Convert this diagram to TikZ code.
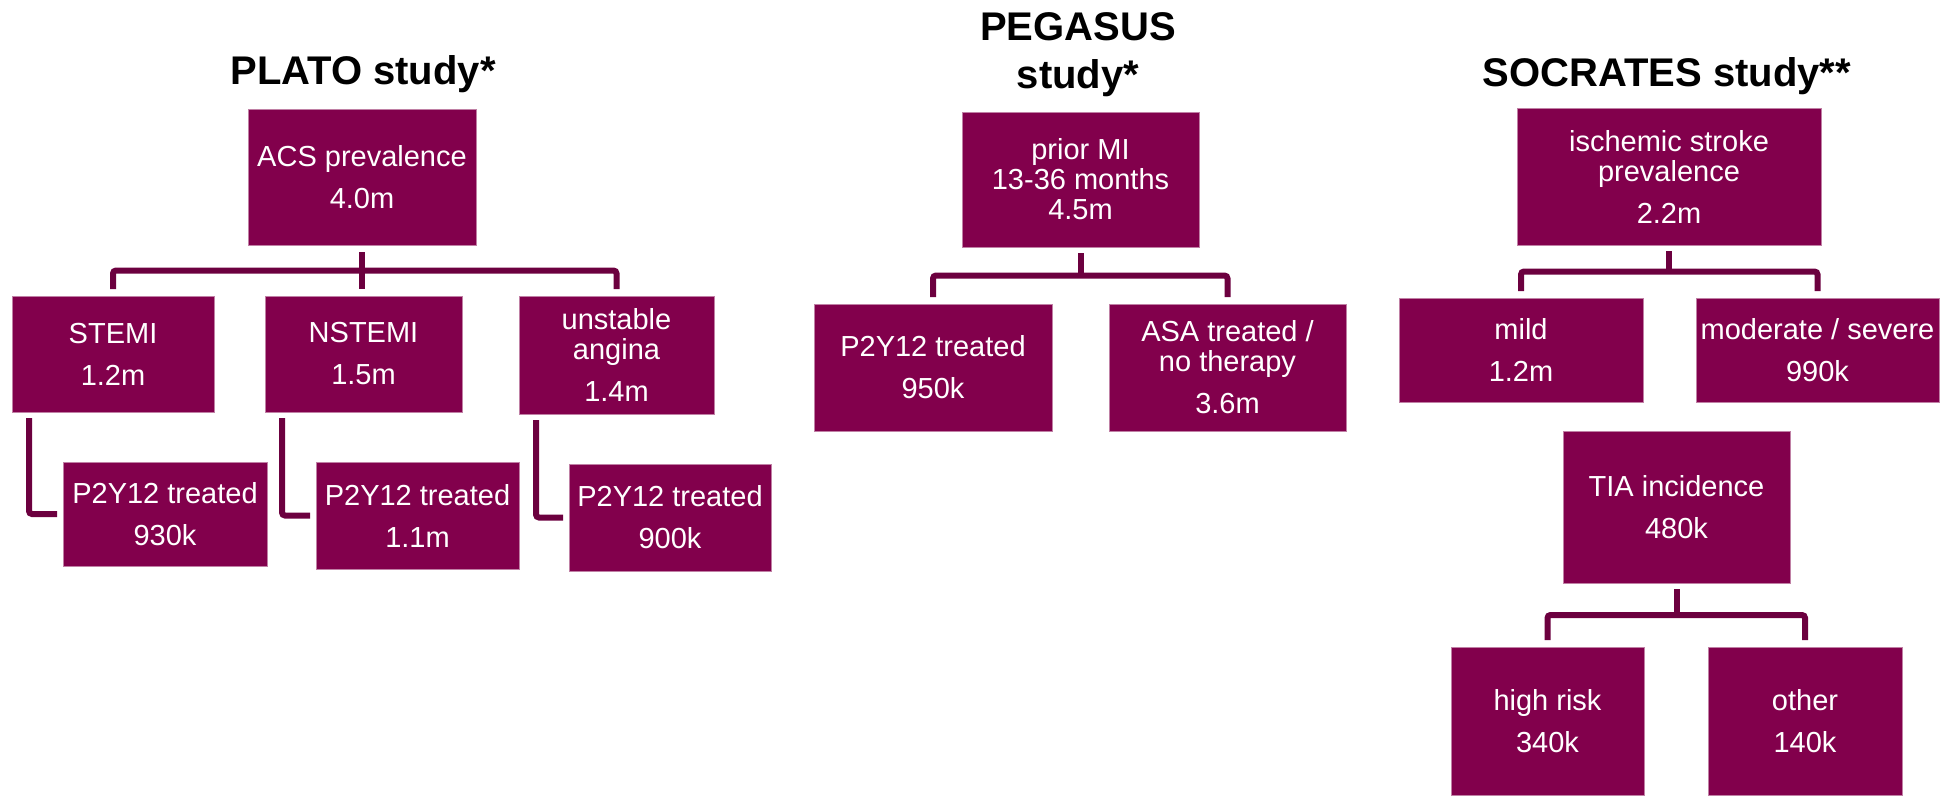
\documentclass[tikz,border=0pt]{standalone}
\usepackage{fontspec}
\setmainfont{Liberation Sans}
\usetikzlibrary{positioning,calc}
\definecolor{boxpurple}{RGB}{130,0,76}
\definecolor{linkpurple}{RGB}{108,0,63}

\begin{document}
\begin{tikzpicture}[
    x=1pt, y=-1pt,
    box/.style 2 args={rectangle, fill=boxpurple, draw=boxpurple!50!white, line width=0.8pt, text=white, minimum width=#1pt, minimum height=#2pt, inner sep=0pt, outer sep=0pt, align=center, font=\fontsize{29}{30}\selectfont},
    title/.style={anchor=north, inner sep=0pt, align=center, font=\fontsize{40}{48}\selectfont\bfseries},
    link/.style={draw=linkpurple, line width=6pt, rounded corners=3pt}
]
    \useasboundingbox (0,0) rectangle (1950,795);

    % PLATO study
    \node[title] (plato) at (363,55) {PLATO study*};
    \node[box={228}{136}] (acs) at (362,177) {ACS prevalence\\[12pt]4.0m};
    \node[box={202}{116}] (stemi) at (113,354) {STEMI\\[12pt]1.2m};
    \node[box={197}{116}] (nstemi) at (363.5,354) {NSTEMI\\[12pt]1.5m};
    \node[box={195}{118}] (ustab) at (616.5,355) {unstable\\angina\\[12pt]1.4m};
    \node[box={204}{104}] (ptA) at (165,514) {P2Y12 treated\\[12pt]930k};
    \node[box={203}{107}] (ptB) at (417.5,515.5) {P2Y12 treated\\[12pt]1.1m};
    \node[box={202}{107}] (ptC) at (670,517.5) {P2Y12 treated\\[12pt]900k};

    \coordinate (abar) at ($(acs.south)!0.5!(nstemi.north -| acs.south)$);
    \draw[link] ([yshift=-7pt]acs.south) -- ([yshift=7pt]nstemi.north -| acs.south);
    \draw[link] ([yshift=7pt]stemi.north) |- (abar) -| ([yshift=7pt]ustab.north);
    \draw[link] ([xshift=17pt,yshift=-6pt]stemi.south west) |- ([xshift=-6pt]ptA.west);
    \draw[link] ([xshift=17pt,yshift=-6pt]nstemi.south west) |- ([xshift=-6pt]ptB.west);
    \draw[link] ([xshift=17pt,yshift=-6pt]ustab.south west) |- ([xshift=-6pt]ptC.west);

    % PEGASUS study
    \node[title] (pegasus) at (1078,12) {PEGASUS\\study*};
    \node[box={237}{135}] (prior) at (1080.5,179.5) {prior MI\\13-36 months\\4.5m};
    \node[box={238}{127}] (ptD) at (933,367.5) {P2Y12 treated\\[12pt]950k};
    \node[box={237}{127}] (asa) at (1227.5,367.5) {ASA treated /\\no therapy\\[12pt]3.6m};

    \coordinate (pbar) at ($(prior.south)!0.5!(ptD.north -| prior.south)$);
    \draw[link] ([yshift=-6pt]prior.south) -- (pbar);
    \draw[link] ([yshift=7pt]ptD.north) |- (pbar) -| ([yshift=7pt]asa.north);

    % SOCRATES study
    \node[title] (socrates) at (1667,57) {SOCRATES study**};
    \node[box={304}{137}] (stroke) at (1669,176.5) {ischemic stroke\\prevalence\\[12pt]2.2m};
    \node[box={244}{104}] (mild) at (1521,350) {mild\\[12pt]1.2m};
    \node[box={243}{104}] (modsev) at (1817.5,350) {moderate / severe\\[12pt]990k};
    \node[box={227}{152}] (tia) at (1676.5,507) {TIA incidence\\[12pt]480k};
    \node[box={193}{148}] (high) at (1547.5,721) {high risk\\[12pt]340k};
    \node[box={194}{148}] (other) at (1805,721) {other\\[12pt]140k};

    \coordinate (sbar) at ($(stroke.south)!0.5!(mild.north -| stroke.south)$);
    \draw[link] ([yshift=-6pt]stroke.south) -- (sbar);
    \draw[link] ([yshift=7pt]mild.north) |- (sbar) -| ([yshift=7pt]modsev.north);
    \coordinate (tbar) at ($(tia.south)!0.5!(high.north -| tia.south)$);
    \draw[link] ([yshift=-6pt]tia.south) -- (tbar);
    \draw[link] ([yshift=7pt]high.north) |- (tbar) -| ([yshift=7pt]other.north);
\end{tikzpicture}
\end{document}
